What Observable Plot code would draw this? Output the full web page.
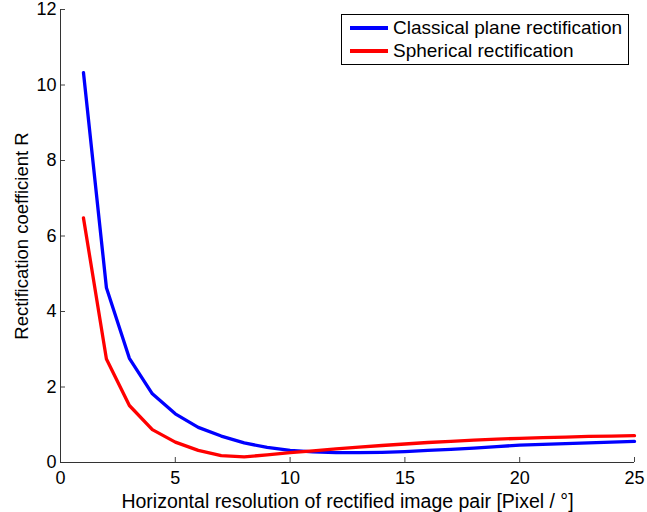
<!DOCTYPE html>
<html>
<head>
<meta charset="utf-8">
<script src="https://cdn.jsdelivr.net/npm/d3@7"></script>
<script src="https://cdn.jsdelivr.net/npm/@observablehq/plot@0.6"></script>
<style>
  html, body { margin: 0; padding: 0; background: #fff; }
  #wrap { position: relative; width: 647px; height: 512px; font-family: "Liberation Sans", Arial, sans-serif; }
  #legend { position: absolute; left: 341px; top: 14px; width: 288px; height: 51px; border: 1px solid #000; background: #fff; box-sizing: border-box; }
  .item { position: absolute; left: 0; height: 22px; display: flex; align-items: center; font-size: 19px; color: #000; white-space: nowrap; }
  .item .sw { width: 38px; height: 3.5px; margin-left: 8px; margin-right: 5px; }
</style>
</head>
<body>
<div id="wrap"></div>
<script>
const resolution = [1,2,3,4,5,6,7,8,9,10,11,12,13,14,15,16,17,18,19,20,21,22,23,24,25];
const classicalR = [10.33,4.63,2.76,1.82,1.29,0.93,0.70,0.52,0.40,0.32,0.28,0.26,0.26,0.27,0.29,0.32,0.35,0.38,0.42,0.46,0.48,0.50,0.52,0.54,0.56];
const sphericalR = [6.48,2.74,1.51,0.87,0.54,0.32,0.18,0.15,0.20,0.26,0.31,0.36,0.41,0.45,0.49,0.53,0.56,0.59,0.62,0.64,0.66,0.67,0.69,0.70,0.71];
const seriesNames = ["Classical plane rectification", "Spherical rectification"];
const seriesColors = ["#0000ff", "#ff0000"];
const xTicks = [0,5,10,15,20,25];
const yTicks = [0,2,4,6,8,10,12];

const rows = [];
resolution.forEach((x, i) => {
  rows.push({x, y: classicalR[i], s: seriesNames[0]});
  rows.push({x, y: sphericalR[i], s: seriesNames[1]});
});

const chart = Plot.plot({
  width: 647,
  height: 512,
  marginLeft: 60,
  marginRight: 13,
  marginTop: 9,
  marginBottom: 50,
  style: {fontFamily: "Liberation Sans, Arial, sans-serif", fontSize: "18px", color: "#000", background: "#fff"},
  x: {domain: [0, 25]},
  y: {domain: [0, 12]},
  color: {domain: seriesNames, range: seriesColors},
  marks: [
    Plot.line(rows, {x: "x", y: "y", z: "s", stroke: "s", strokeWidth: 3.3}),
    Plot.axisX({ticks: xTicks, tickSize: -5, tickPadding: 14, stroke: "#444", label: null}),
    Plot.axisX({ticks: [], tickSize: 0, label: "Horizontal resolution of rectified image pair [Pixel / °]", labelAnchor: "center", labelArrow: "none", labelOffset: 45, fontSize: 19.5}),
    Plot.axisY({ticks: yTicks, tickSize: -5, tickPadding: 9, stroke: "#444", label: null}),
    Plot.axisY({ticks: [], tickSize: 0, label: "Rectification coefficient R", labelAnchor: "center", labelArrow: "none", labelOffset: 46, fontSize: 18.5}),
    Plot.ruleY([0], {stroke: "#333"}),
    Plot.ruleX([0], {stroke: "#333"})
  ]
});

const wrap = document.getElementById("wrap");
wrap.appendChild(chart);

const legend = document.createElement("div");
legend.id = "legend";
seriesNames.forEach((name, i) => {
  const item = document.createElement("div");
  item.className = "item";
  item.style.top = (2 + i * 23) + "px";
  const sw = document.createElement("span");
  sw.className = "sw";
  sw.style.background = seriesColors[i];
  const t = document.createElement("span");
  t.textContent = name;
  item.appendChild(sw);
  item.appendChild(t);
  legend.appendChild(item);
});
wrap.appendChild(legend);
</script>
</body>
</html>
